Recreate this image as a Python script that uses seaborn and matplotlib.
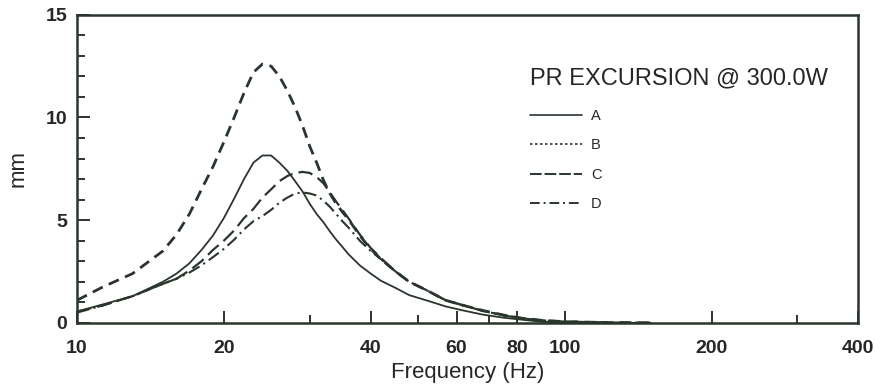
import numpy as np
import pandas as pd
import seaborn as sns
import matplotlib.pyplot as plt
from matplotlib.lines import Line2D
from matplotlib.ticker import FixedLocator, NullFormatter

freq = [10, 11.3, 13, 15, 16, 17, 18, 19, 20, 21, 22, 23, 24, 25, 26, 27, 28, 29, 30,
        31, 32, 33, 34, 35, 36, 38, 40, 42, 45, 48, 52, 57, 62, 68, 75, 82, 90, 100, 120, 150]

a = [0.55, 0.9, 1.3, 2.0, 2.4, 2.9, 3.55, 4.25, 5.1, 6.05, 7.0, 7.8, 8.15, 8.15, 7.8, 7.4, 6.9,
     6.4, 5.8, 5.3, 4.9, 4.45, 4.05, 3.7, 3.35, 2.8, 2.4, 2.05, 1.7, 1.35, 1.1, 0.8, 0.6, 0.4,
     0.25, 0.15, 0.05, 0.02, 0.0, 0.0]
b = [1.1, 1.75, 2.4, 3.5, 4.3, 5.3, 6.5, 7.6, 8.8, 10.0, 11.2, 12.2, 12.6, 12.5, 12.0, 11.3,
     10.5, 9.6, 8.6, 7.8, 6.95, 6.3, 5.8, 5.4, 5.05, 4.25, 3.6, 3.1, 2.5, 2.0, 1.6, 1.1, 0.85,
     0.6, 0.38, 0.22, 0.12, 0.06, 0.02, 0.0]
c = [0.55, 0.85, 1.3, 1.9, 2.15, 2.55, 3.0, 3.55, 4.0, 4.5, 5.1, 5.55, 6.1, 6.5, 6.9, 7.15,
     7.3, 7.35, 7.3, 7.1, 6.8, 6.35, 5.9, 5.5, 5.1, 4.3, 3.65, 3.15, 2.5, 2.0, 1.6, 1.1, 0.85,
     0.58, 0.37, 0.22, 0.12, 0.06, 0.02, 0.0]
d = [0.5, 0.85, 1.3, 1.9, 2.15, 2.45, 2.8, 3.2, 3.6, 4.05, 4.55, 4.95, 5.2, 5.5, 5.85, 6.1,
     6.3, 6.35, 6.3, 6.2, 5.95, 5.65, 5.3, 4.95, 4.65, 4.0, 3.5, 3.1, 2.5, 2.0, 1.6, 1.1, 0.85,
     0.58, 0.36, 0.22, 0.12, 0.06, 0.02, 0.0]

names = ["A", "B", "C", "D"]
xticks = [10, 20, 40, 60, 80, 100, 200, 400]
xminor = [30, 50, 70, 300]

df = pd.DataFrame({
    "freq": freq * 4,
    "mm": a + b + c + d,
    "curve": sum([[n] * len(freq) for n in names], []),
})

ink = "#2a362c"
sns.set_style("ticks")
plt.rcParams["font.family"] = ["Liberation Sans", "DejaVu Sans"]

fig = plt.figure(figsize=(8.75, 3.89), dpi=100)
ax = fig.add_axes([0.088, 0.17, 0.893, 0.792])

dash_map = {"A": "", "B": (4, 2.4), "C": (6.5, 2.8), "D": (6, 2.2, 1, 2.2)}
sns.lineplot(data=df, x="freq", y="mm", hue="curve", style="curve",
             palette=[ink] * 4, dashes=dash_map, linewidth=1.5,
             legend=False, ax=ax)
for ln, w in zip(ax.lines, [1.3, 2.0, 1.6, 1.5]):
    ln.set_linewidth(w)

ax.set_xscale("log")
ax.set_xlim(10, 400)
ax.set_ylim(0, 15)
ax.xaxis.set_major_locator(FixedLocator(xticks))
ax.set_xticklabels([str(t) for t in xticks])
ax.xaxis.set_minor_locator(FixedLocator(xminor))
ax.xaxis.set_minor_formatter(NullFormatter())
ax.set_yticks([0, 5, 10, 15])
ax.yaxis.set_minor_locator(FixedLocator(range(16)))

ax.tick_params(which="major", direction="in", length=9, width=1.4, color=ink,
               labelsize=14)
ax.tick_params(axis="x", which="major", pad=12)
ax.tick_params(axis="y", which="major", pad=7)
ax.tick_params(which="minor", direction="in", length=6, width=1.4, color=ink)
for lab in ax.get_xticklabels() + ax.get_yticklabels():
    lab.set_fontweight("bold")
for s in ax.spines.values():
    s.set_visible(True)
    s.set_linewidth(1.8)
    s.set_color(ink)

ax.set_xlabel("Frequency (Hz)", fontsize=16, labelpad=4)
ax.set_ylabel("mm", fontsize=16, labelpad=12)

handles = [
    Line2D([], [], color=ink, lw=1.2, ls="-"),
    Line2D([], [], color=ink, lw=1.2, ls=(0, (1.5, 1.5))),
    Line2D([], [], color=ink, lw=1.4, ls=(0, (6, 1.5))),
    Line2D([], [], color=ink, lw=1.4, ls=(0, (5, 2, 1, 2))),
]
leg = ax.legend(handles, names, title="PR EXCURSION @ 300.0W", loc="upper left",
                bbox_to_anchor=(0.570, 0.853), frameon=False, fontsize=10.5,
                title_fontsize=17, alignment="left", handlelength=3.6,
                handletextpad=0.6, labelspacing=1.06, borderpad=0)
leg._legend_box.sep = 14

fig.savefig("out.png", dpi=100)
